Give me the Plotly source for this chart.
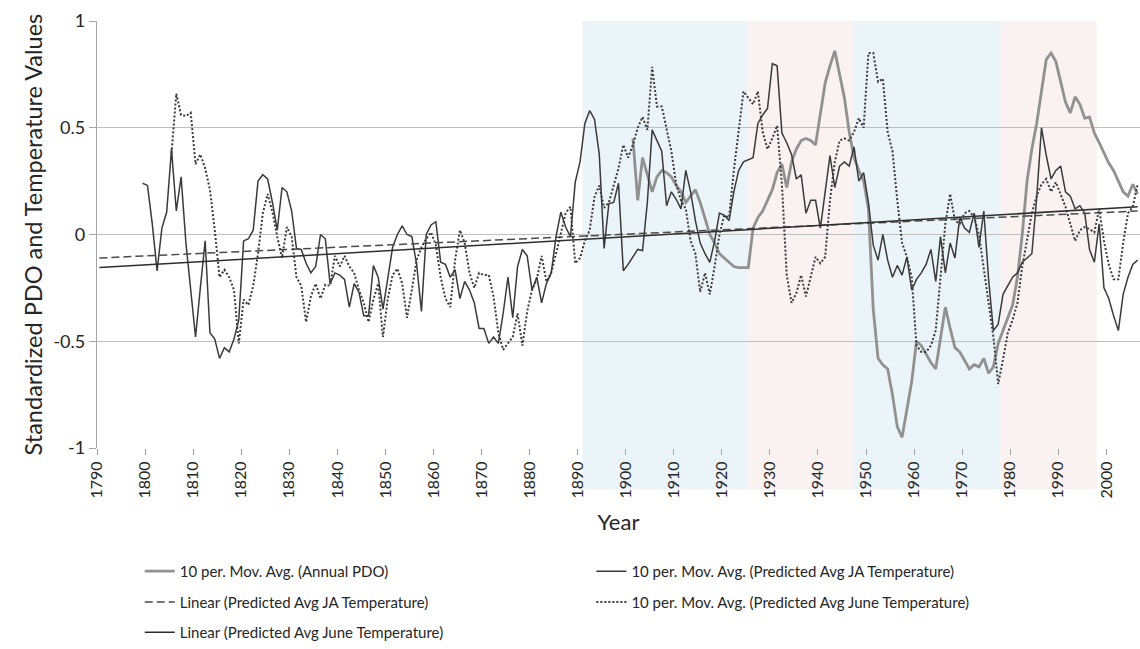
import plotly.graph_objects as go

# ---------------- data ----------------
ja_start = 1799
ja_ma = [0.24, 0.23, 0.05, -0.17, 0.03, 0.105, 0.40, 0.11, 0.27, -0.04,
         -0.26, -0.48, -0.25, -0.03, -0.46, -0.49, -0.58, -0.53, -0.55, -0.49,
         -0.40, -0.03, -0.02, 0.02, 0.25, 0.28, 0.26, 0.15, 0.02, 0.22,
         0.20, 0.11, -0.065, -0.07, -0.135, -0.18, -0.15, 0.0, -0.02, -0.23,
         -0.18, -0.19, -0.21, -0.34, -0.23, -0.27, -0.38, -0.38, -0.145, -0.20,
         -0.35, -0.20, -0.06, 0.00, 0.04, 0.0, -0.01, -0.14, -0.36, 0.0,
         0.045, 0.06, -0.13, -0.14, -0.20, -0.165, -0.30, -0.22, -0.26, -0.32,
         -0.44, -0.44, -0.51, -0.48, -0.51, -0.37, -0.20, -0.39, -0.15, -0.07,
         -0.10, -0.26, -0.20, -0.32, -0.23, -0.18, -0.01, 0.105, 0.035, -0.01,
         0.245, 0.34, 0.52, 0.58, 0.54, 0.375, -0.065, 0.145, 0.15, 0.24,
         -0.17, -0.14, -0.105, -0.07, -0.075, 0.15, 0.49, 0.44, 0.39, 0.135,
         0.20, 0.165, 0.12, 0.30, 0.20, 0.065, -0.04, -0.09, -0.13, -0.03,
         0.10, 0.09, 0.065, 0.20, 0.30, 0.34, 0.35, 0.36, 0.52, 0.56,
         0.59, 0.80, 0.79, 0.475, 0.43, 0.375, 0.26, 0.28, 0.10, 0.16,
         0.16, 0.03, 0.20, 0.37, 0.22, 0.32, 0.34, 0.32, 0.41, 0.25,
         0.29, 0.15, -0.05, -0.12, 0.0, -0.12, -0.20, -0.145, -0.19, -0.105,
         -0.26, -0.21, -0.18, -0.14, -0.07, -0.22, -0.01, -0.18, -0.04, -0.11,
         0.08, 0.03, 0.01, 0.10, -0.06, 0.11, -0.21, -0.45, -0.42, -0.28,
         -0.24, -0.20, -0.18, -0.13, -0.11, -0.09, 0.17, 0.50, 0.37, 0.26,
         0.30, 0.32, 0.20, 0.18, 0.12, 0.135, 0.10, -0.07, -0.13, 0.05,
         -0.25, -0.30, -0.38, -0.45, -0.28, -0.20, -0.14, -0.12]

june_start = 1805
june_ma = [0.38, 0.66, 0.56, 0.555, 0.57, 0.33, 0.375, 0.31, 0.21, 0.02,
           -0.20, -0.165, -0.20, -0.26, -0.51, -0.305, -0.33, -0.24, -0.09, 0.10,
           0.19, 0.105, -0.01, -0.11, 0.035, -0.01, -0.20, -0.24, -0.41, -0.29,
           -0.23, -0.30, -0.235, -0.24, -0.10, -0.15, -0.10, -0.15, -0.18, -0.26,
           -0.32, -0.41, -0.305, -0.23, -0.48, -0.30, -0.19, -0.16, -0.23, -0.39,
           -0.26, -0.12, -0.06, -0.02, 0.01, -0.05, -0.20, -0.30, -0.34, -0.12,
           0.02, -0.04, -0.18, -0.25, -0.18, -0.19, -0.19, -0.29, -0.46, -0.54,
           -0.51, -0.48, -0.37, -0.52, -0.36, -0.26, -0.21, -0.10, -0.22, -0.18,
           -0.09, 0.00, 0.10, 0.13, -0.135, -0.11, -0.03, 0.02, 0.175, 0.23,
           0.125, 0.15, 0.235, 0.31, 0.42, 0.36, 0.42, 0.50, 0.55, 0.49,
           0.785, 0.60, 0.60, 0.50, 0.39, 0.235, 0.16, 0.12, -0.03, -0.09,
           -0.27, -0.18, -0.28, -0.15, 0.0, 0.09, 0.08, 0.30, 0.475, 0.67,
           0.64, 0.61, 0.67, 0.48, 0.40, 0.45, 0.51, 0.235, -0.19, -0.32,
           -0.275, -0.19, -0.29, -0.19, -0.105, -0.135, -0.105, 0.16, 0.34, 0.44,
           0.45, 0.44, 0.48, 0.545, 0.50, 0.85, 0.85, 0.715, 0.73, 0.48,
           0.39, 0.16, -0.04, -0.105, -0.20, -0.52, -0.55, -0.55, -0.52, -0.45,
           -0.20, 0.05, 0.19, 0.065, 0.05, 0.10, 0.11, 0.08, 0.0, -0.15,
           -0.32, -0.48, -0.70, -0.585, -0.46, -0.40, -0.32, -0.15, -0.03, 0.10,
           0.18, 0.235, 0.26, 0.20, 0.245, 0.19, 0.13, 0.05, -0.03, 0.02,
           0.035, 0.025, 0.01, 0.12, -0.03, -0.14, -0.21, -0.21, -0.04, 0.10,
           0.13, 0.235]

pdo_start = 1901
pdo_ma = [0.45, 0.16, 0.36, 0.28, 0.20, 0.27, 0.30, 0.29, 0.27, 0.23,
          0.20, 0.15, 0.18, 0.21, 0.15, 0.07, 0.0, -0.04, -0.09, -0.11,
          -0.13, -0.15, -0.155, -0.155, -0.155, 0.03, 0.08, 0.11, 0.16, 0.21,
          0.29, 0.33, 0.22, 0.34, 0.40, 0.44, 0.45, 0.44, 0.42, 0.56,
          0.71, 0.79, 0.86, 0.75, 0.64, 0.48, 0.36, 0.30, 0.25, 0.12,
          -0.35, -0.58, -0.61, -0.63, -0.75, -0.90, -0.95, -0.82, -0.69, -0.50,
          -0.52, -0.56, -0.60, -0.63, -0.48, -0.34, -0.44, -0.53, -0.55, -0.59,
          -0.63, -0.61, -0.62, -0.58, -0.65, -0.62, -0.51, -0.45, -0.39, -0.33,
          -0.20, 0.0, 0.25, 0.40, 0.52, 0.68, 0.82, 0.85, 0.81, 0.715,
          0.62, 0.57, 0.645, 0.61, 0.545, 0.55, 0.475, 0.43, 0.38, 0.335,
          0.30, 0.25, 0.20, 0.18, 0.235, 0.19]

trend_years = [1790, 2006]
ja_trend = [-0.11, 0.11]
june_trend = [-0.155, 0.13]

regime_start = [1890.5, 1925, 1947, 1977.5]
regime_end = [1925, 1947, 1977.5, 1997.5]
regime_color = ["#EBF4F8", "#FAF1F1", "#EBF4F8", "#FAF1F1"]

decades = list(range(1790, 2001, 10))

y_title = "Standardized PDO and Temperature Values"
x_title = "Year"


def yrs(start, vals):
    return list(range(start, start + len(vals)))


FONT = "Lato, 'Open Sans', sans-serif"
TXT = "#262626"

fig = go.Figure()

fig.add_trace(go.Scatter(x=yrs(pdo_start, pdo_ma), y=pdo_ma, mode="lines",
                         name="10 per. Mov. Avg. (Annual PDO)",
                         line=dict(color="#919191", width=2.8), legend="legend"))
fig.add_trace(go.Scatter(x=yrs(ja_start, ja_ma), y=ja_ma, mode="lines",
                         name="10 per. Mov. Avg. (Predicted Avg JA Temperature)",
                         line=dict(color="#3a3a3a", width=1.5), legend="legend2"))
fig.add_trace(go.Scatter(x=trend_years, y=ja_trend, mode="lines",
                         name="Linear (Predicted Avg JA Temperature)",
                         line=dict(color="#4a4a4a", width=1.5, dash="8px,4px"), legend="legend3"))
fig.add_trace(go.Scatter(x=yrs(june_start, june_ma), y=june_ma, mode="lines",
                         name="10 per. Mov. Avg. (Predicted Avg June Temperature)",
                         line=dict(color="#3a3a3a", width=2, dash="2px,2px"), legend="legend4"))
fig.add_trace(go.Scatter(x=trend_years, y=june_trend, mode="lines",
                         name="Linear (Predicted Avg June Temperature)",
                         line=dict(color="#2e2e2e", width=1.5), legend="legend5"))

for s, e, c in zip(regime_start, regime_end, regime_color):
    fig.add_shape(type="rect", xref="x", yref="paper", x0=s, x1=e, y0=-0.097, y1=1,
                  fillcolor=c, line=dict(width=0), layer="below")

fig.add_annotation(text=y_title, xref="paper", yref="paper", x=-0.0614, y=0.5,
                   xanchor="center", yanchor="middle", textangle=-90, showarrow=False,
                   font=dict(family=FONT, size=23.5, color=TXT))

leg_common = dict(font=dict(family=FONT, size=15, color=TXT), bgcolor="rgba(0,0,0,0)",
                  xanchor="left", yanchor="middle", orientation="h")
row_y = [-0.289, -0.361, -0.433]
col_x = [0.041, 0.474]

fig.update_layout(
    width=1140, height=649,
    margin=dict(l=97, r=0, t=21, b=196),
    paper_bgcolor="white", plot_bgcolor="rgba(0,0,0,0)",
    font=dict(family=FONT, color=TXT),
    showlegend=True,
    legend=dict(x=col_x[0], y=row_y[0], **leg_common),
    legend2=dict(x=col_x[1], y=row_y[0], **leg_common),
    legend3=dict(x=col_x[0], y=row_y[1], **leg_common),
    legend4=dict(x=col_x[1], y=row_y[1], **leg_common),
    legend5=dict(x=col_x[0], y=row_y[2], **leg_common),
    xaxis=dict(range=[1789.5, 2006.5], tickmode="array",
               tickvals=[d - 0.5 for d in decades], ticktext=[str(d) for d in decades],
               tickangle=-90, tickfont=dict(size=16, family=FONT, color=TXT),
               ticks="outside", ticklen=6, tickcolor="#a6a6a6", tickwidth=1.3,
               showgrid=False, zeroline=False, showline=False,
               title=dict(text=x_title, font=dict(size=22, family=FONT, color=TXT), standoff=17)),
    yaxis=dict(range=[-1, 1], tickmode="array", tickvals=[-1, -0.5, 0, 0.5, 1],
               ticktext=["-1", "-0.5", "0", "0.5", "1"],
               tickfont=dict(size=18, family=FONT, color=TXT),
               ticks="outside", ticklen=7, tickcolor="#a6a6a6", tickwidth=1.3,
               showgrid=True, gridcolor="#bfbfbf", gridwidth=1.3,
               zeroline=False, showline=True, linecolor="#a6a6a6", linewidth=1.3),
)

fig.write_html("out.html")
